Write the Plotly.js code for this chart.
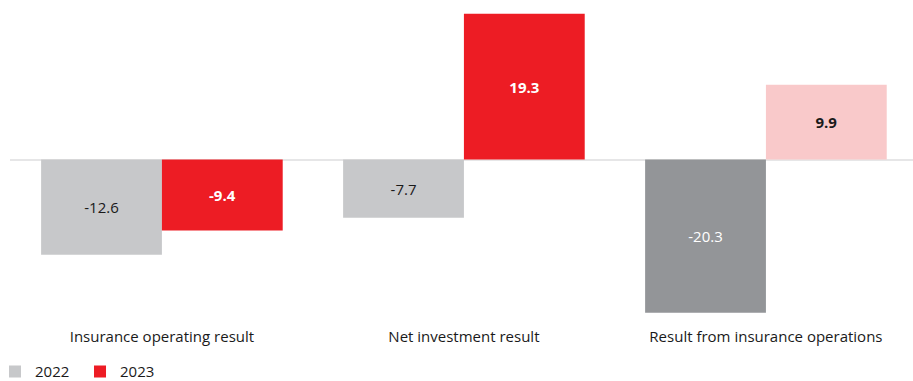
<!DOCTYPE html>
<html>
<head>
<meta charset="utf-8">
<script src="https://cdn.plot.ly/plotly-3.0.1.min.js"></script>
<style>html,body{margin:0;padding:0;background:#fff;}#chart{width:913px;height:381px;}</style>
</head>
<body>
<div id="chart"></div>
<script>
const categories = ["Insurance operating result", "Net investment result", "Result from insurance operations"];
const values2022 = [-12.6, -7.7, -20.3];
const values2023 = [-9.4, 19.3, 9.9];
const colors2022 = ["#c7c8ca", "#c7c8ca", "#939598"];
const colors2023 = ["#ed1c24", "#ed1c24", "#f9c9ca"];
const textColors2022 = ["#1a1a1a", "#1a1a1a", "#ffffff"];
const textColors2023 = ["#ffffff", "#ffffff", "#1a1a1a"];
const templates2022 = ["%{text}", "%{text}", "%{text}"];
const templates2023 = ["<b>%{text}</b>", "<b>%{text}</b>", "<b>%{text}</b>"];

const FONT = "Open Sans, sans-serif";
const xIdx = [0, 1, 2];

const traces = [
  {
    type: "bar", name: "2022", x: xIdx, y: values2022,
    marker: {color: colors2022},
    text: values2022.map(v => v.toFixed(1)),
    texttemplate: templates2022,
    textposition: "inside", insidetextanchor: "middle", constraintext: "none",
    textfont: {family: FONT, size: 15, color: textColors2022},
    hoverinfo: "skip"
  },
  {
    type: "bar", name: "2023", x: xIdx, y: values2023,
    marker: {color: colors2023},
    text: values2023.map(v => v.toFixed(1)),
    texttemplate: templates2023,
    textposition: "inside", insidetextanchor: "middle", constraintext: "none",
    textfont: {family: FONT, size: 15, color: textColors2023},
    hoverinfo: "skip"
  }
];

const layout = {
  width: 913, height: 381,
  margin: {l: 10, r: 0, t: 0, b: 61, autoexpand: false},
  paper_bgcolor: "#ffffff", plot_bgcolor: "#ffffff",
  font: {family: FONT, size: 15, color: "#1a1a1a"},
  barmode: "group", bargap: 0.2, bargroupgap: 0,
  xaxis: {
    range: [-0.503, 2.487], tickmode: "array", tickvals: xIdx, ticktext: categories,
    showgrid: false, zeroline: false, showline: false, ticks: "", automargin: false,
    tickfont: {family: FONT, size: 15, color: "#1a1a1a"}, ticklabelstandoff: 6
  },
  yaxis: {
    range: [-21.26, 21.13], showgrid: false, showticklabels: false, ticks: "", automargin: false,
    zeroline: true, zerolinecolor: "#e6e6e7", zerolinewidth: 2, showline: false
  },
  showlegend: true,
  legend: {
    orientation: "h", xref: "paper", yref: "paper", x: -0.0166, y: -0.162, xanchor: "left", yanchor: "middle",
    font: {family: FONT, size: 15, color: "#1a1a1a"}, entrywidth: 40, traceorder: "normal"
  }
};

Plotly.newPlot("chart", traces, layout, {staticPlot: true, displayModeBar: false});
</script>
</body>
</html>
